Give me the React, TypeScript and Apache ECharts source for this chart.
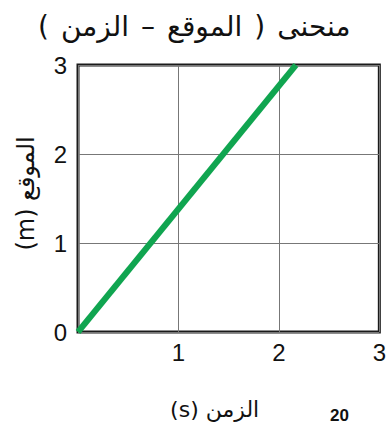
import React, { useEffect, useRef } from "react";
import * as echarts from "echarts";

// Title words in visual left-to-right order (each drawn as its own run)
const titleParts = ["(", "الزمن", "–", "الموقع", ")", "منحنى"];
const xName = "(s) الزمن";
const yName = "(m) الموقع";
const timeValues = [0, 2.17];
const positionValues = [0, 3];
const xTicks = [0, 1, 2, 3];
const yTicks = [0, 1, 2, 3];
const pageNumber = "20";

export default function App() {
  const ref = useRef<HTMLDivElement>(null);
  useEffect(() => {
    if (!ref.current) return;
    const chart = echarts.init(ref.current, null, { renderer: "svg" });
    const data = timeValues.map((t, i) => [t, positionValues[i]]);
    const titleRich = titleParts.map((p) => `{t|${p}}`).join("{s| }");
    chart.setOption({
      animation: false,
      backgroundColor: "#ffffff",
      title: {
        text: titleRich,
        left: 33,
        top: 7,
        textStyle: {
          fontFamily: "DejaVu Sans",
          fontSize: 28,
          fontWeight: "normal",
          color: "#111",
          rich: {
            t: { fontFamily: "DejaVu Sans", fontSize: 28, fontWeight: "normal", color: "#111" },
            s: { fontFamily: "DejaVu Sans", fontSize: 28, fontWeight: "normal", color: "#111", width: 12 },
          },
        },
      },
      grid: {
        left: 78,
        right: 8,
        top: 65,
        bottom: 94,
        show: true,
        borderColor: "#1a1a1a",
        borderWidth: 3,
        backgroundColor: "transparent",
      },
      xAxis: {
        type: "value",
        min: xTicks[0],
        max: xTicks[xTicks.length - 1],
        interval: 1,
        name: xName,
        nameLocation: "middle",
        nameGap: 66,
        nameTextStyle: { fontFamily: "DejaVu Sans", fontSize: 22, color: "#111", padding: [0, 28, 0, 0] },
        axisLine: { show: false },
        axisTick: { show: false },
        splitLine: { show: true, lineStyle: { color: "#777", width: 1 } },
        axisLabel: {
          margin: 8,
          fontFamily: "Liberation Sans",
          fontSize: 24,
          color: "#111",
          formatter: (v: number) => (v === 0 ? "" : String(v)),
        },
      },
      yAxis: {
        type: "value",
        min: yTicks[0],
        max: yTicks[yTicks.length - 1],
        interval: 1,
        name: yName,
        nameLocation: "middle",
        nameGap: 40,
        nameTextStyle: { fontFamily: "DejaVu Sans", fontSize: 24, color: "#111", padding: [0, 0, 0, 10] },
        axisLine: { show: false },
        axisTick: { show: false },
        splitLine: { show: true, lineStyle: { color: "#777", width: 1 } },
        axisLabel: {
          margin: 11,
          fontFamily: "Liberation Sans",
          fontSize: 24,
          color: "#111",
        },
      },
      graphic: [
        {
          type: "text",
          left: 330,
          top: 407,
          style: { text: pageNumber, fontFamily: "Liberation Sans", fontSize: 17, fontWeight: "bold", fill: "#111" },
        },
      ],
      series: [
        {
          type: "line",
          data,
          symbol: "none",
          lineStyle: { color: "#10a550", width: 6 },
          z: 5,
        },
      ],
    });
    return () => chart.dispose();
  }, []);
  return <div ref={ref} style={{ position: "fixed", left: 0, top: 0, width: 389, height: 426 }} />;
}
